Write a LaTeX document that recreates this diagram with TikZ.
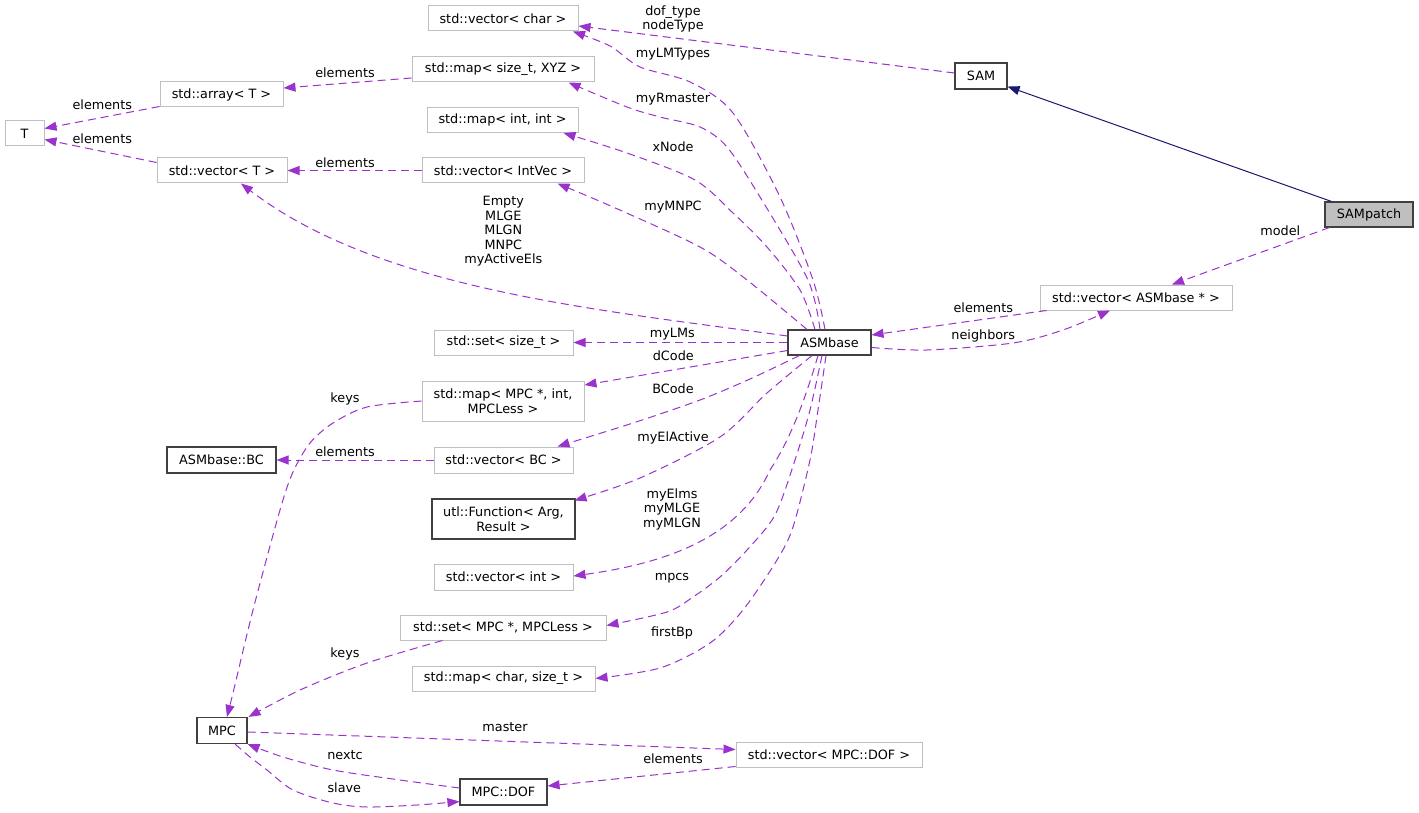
\documentclass[tikz,border=0pt]{standalone}
\usepackage{fontspec}
\setmainfont{DejaVu Sans}
\usetikzlibrary{arrows.meta}
\definecolor{depc}{HTML}{9A32CD}
\definecolor{inhc}{HTML}{191970}
\definecolor{boxgray}{HTML}{BFBFBF}
\definecolor{boxdark}{HTML}{404040}
\definecolor{selfill}{HTML}{BFBFBF}
\tikzset{
  gbox/.style={draw=boxgray, fill=white, line width=1pt, inner sep=0pt, minimum height=25pt, align=center},
  bbox/.style={draw=boxdark, fill=white, line width=1.1pt, inner sep=0pt, minimum height=25pt, align=center},
  selbox/.style={draw=boxdark, fill=selfill, line width=1.1pt, inner sep=0pt, minimum height=25pt, align=center},
  lbl/.style={inner sep=0pt, align=center},
  dep/.style={draw=depc, dash pattern=on 8pt off 5pt, line width=1pt, -{Triangle[length=12pt,width=9pt,fill=depc]}},
  inh/.style={draw=inhc, line width=1pt, -{Triangle[length=12pt,width=9pt,fill=inhc]}}
}
\begin{document}
\begin{tikzpicture}[x=1pt,y=-1pt,font=\fontsize{12.8}{14.5}\selectfont]
\useasboundingbox (0,0) rectangle (1419,813);
\fill[white] (0,0) rectangle (1419,813);

% nodes
\node[gbox, minimum width=39] (T) at (24.5,133.5) {T};
\node[gbox, minimum width=123] (arrayT) at (221.5,94.5) {std::array< T >};
\node[gbox, minimum width=130] (vectorT) at (222,170.5) {std::vector< T >};
\node[gbox, minimum width=150] (vecchar) at (503,18.5) {std::vector< char >};
\node[gbox, minimum width=182] (mapXYZ) at (503,69.5) {std::map< size\_t, XYZ >};
\node[gbox, minimum width=151] (mapint) at (502.5,120) {std::map< int, int >};
\node[gbox, minimum width=162] (vecIntVec) at (503,170.5) {std::vector< IntVec >};
\node[bbox, minimum width=52, minimum height=26] (SAM) at (981,76) {SAM};
\node[selbox, minimum width=88] (SAMpatch) at (1369,214.5) {SAMpatch};
\node[gbox, minimum width=192] (vecASM) at (1136,297.5) {std::vector< ASMbase * >};
\node[bbox, minimum width=83] (ASMbase) at (829.5,342.5) {ASMbase};
\node[gbox, minimum width=139] (setsize) at (503.5,342.5) {std::set< size\_t >};
\node[gbox, minimum width=162, minimum height=40] (mapMPC) at (503,401) {std::map< MPC *, int,\\MPCLess >};
\node[gbox, minimum width=139, minimum height=26] (vecBC) at (503.5,460) {std::vector< BC >};
\node[bbox, minimum width=109, minimum height=26] (ASMBC) at (221.5,460) {ASMbase::BC};
\node[bbox, minimum width=143, minimum height=40] (utlFunc) at (503.5,519) {utl::Function< Arg,\\Result >};
\node[gbox, minimum width=139, minimum height=26] (vecint) at (503.5,577) {std::vector< int >};
\node[gbox, minimum width=206] (setMPC) at (503,627.5) {std::set< MPC *, MPCLess >};
\node[gbox, minimum width=183] (mapchar) at (503.5,678.5) {std::map< char, size\_t >};
\node[bbox, minimum width=50, minimum height=26] (MPC) at (222,730.5) {MPC};
\node[gbox, minimum width=186] (vecDOF) at (829,754.5) {std::vector< MPC::DOF >};
\node[bbox, minimum width=87, minimum height=26] (MPCDOF) at (503.5,792) {MPC::DOF};

% edges
\draw[inh] ([xshift=7pt]SAMpatch.north west) -- ([yshift=3pt]SAM.south east);
\draw[dep] ([yshift=3pt]SAM.west) -- ([yshift=-7.5pt]vecchar.east);
\draw[dep] plot[smooth] coordinates {([xshift=-4.5pt]ASMbase.north) (813,280) (780,197) (733,113) (690,82) (640,67) (610,46) ([xshift=-5.5pt]vecchar.south east)};
\draw[dep] plot[smooth] coordinates {([xshift=-9.5pt]ASMbase.north) (808,280) (760,197) (727,147) (700,127) (660,117) (627,107) ([xshift=-26pt]mapXYZ.south east)};
\draw[dep] plot[smooth] coordinates {([xshift=-14.5pt]ASMbase.north) (800,290) (767,247) (733,213) (695,180) (627,153) ([xshift=-15pt]mapint.south east)};
\draw[dep] plot[smooth] coordinates {([xshift=-22.5pt]ASMbase.north) (747,280) (700,247) (613,207) ([xshift=-27pt]vecIntVec.south east)};
\draw[dep] ([yshift=6.5pt]ASMbase.west) .. controls (600,310) and (380,290) .. ([xshift=19pt]vectorT.south);
\draw[dep] (ASMbase.west) -- (setsize.east);
\draw[dep] ([yshift=-8pt]ASMbase.west) -- ([yshift=16pt]mapMPC.east);
\draw[dep] plot[smooth] coordinates {([xshift=12pt]ASMbase.south west) (750,379) (700,400) (633,423) ([xshift=-16pt]vecBC.north east)};
\draw[dep] plot[smooth] coordinates {([xshift=-17.5pt]ASMbase.south) (767,393) (720,437) (640,478) ([xshift=-1pt,yshift=-2pt]utlFunc.north east)};
\draw[dep] ([xshift=-11.5pt]ASMbase.south) .. controls (805,400) and (790,440) .. (770,470) .. controls (745,525) and (690,560) .. ([yshift=1pt]vecint.east);
\draw[dep] plot[smooth] coordinates {([xshift=-7.5pt]ASMbase.south) (810,410) (795,460) (775,515) (747,550) (720,577) (693,597) (667,612) ([yshift=2pt]setMPC.east)};
\draw[dep] plot[smooth] coordinates {([xshift=-3.5pt]ASMbase.south) (818,410) (810,460) (793,527) (777,560) (743,610) (710,643) (660,668) (mapchar.east)};
\draw[dep] ([xshift=7pt]vecASM.south west) -- ([yshift=7.5pt]ASMbase.east);
\draw[dep] plot[smooth] coordinates {([yshift=-5pt]ASMbase.east) (927,350) (1013,343) (1063,330) ([xshift=-26pt]vecASM.south)};
\draw[dep] ([xshift=5pt]SAMpatch.south west) -- ([xshift=36pt]vecASM.north);
\draw[dep] ([yshift=-8.5pt]mapXYZ.west) -- ([yshift=6.5pt]arrayT.east);
\draw[dep] ([yshift=1pt]arrayT.south west) -- ([yshift=5pt]T.east);
\draw[dep] ([yshift=8pt]vectorT.west) -- ([yshift=-6pt]T.east);
\draw[dep] (vecIntVec.west) -- (vectorT.east);
\draw[dep] (vecBC.west) -- (ASMBC.east);
\draw[dep] plot[smooth] coordinates {(mapMPC.west) (367,407) (333,423) (310,443) (293,472) (280,510) (253,610) (233,693) ([xshift=5pt]MPC.north)};
\draw[dep] plot[smooth] coordinates {([xshift=43pt]setMPC.south west) (367,663) (300,690) ([xshift=1pt]MPC.north east)};
\draw[dep] ([yshift=-1.5pt]MPC.east) -- ([yshift=5pt]vecDOF.west);
\draw[dep] plot[smooth] coordinates {([yshift=4pt]MPCDOF.west) (400,780) (333,770) (283,757) (MPC.south east)};
\draw[dep] plot[smooth] coordinates {([xshift=13pt]MPC.south) (250,757) (267,770) (293,790) (333,803) (367,807) (417,805) ([yshift=4pt]MPCDOF.south west)};
\draw[dep] ([yshift=1pt]vecDOF.south west) -- ([yshift=6pt]MPCDOF.east);

% labels
\node[lbl] (l1) at (673,19) {dof\_type\\nodeType};
\node[lbl] (l2) at (673,54.3) {myLMTypes};
\node[lbl] (l3) at (673,99.3) {myRmaster};
\node[lbl] (l4) at (673,146.7) {xNode};
\node[lbl] (l5) at (673,206.7) {myMNPC};
\node[lbl] (l6) at (503.3,231.5) {Empty\\MLGE\\MLGN\\MNPC\\myActiveEls};
\node[lbl] (l7) at (672.3,334.3) {myLMs};
\node[lbl] (l8) at (673.3,356) {dCode};
\node[lbl] (l9) at (673,388.3) {BCode};
\node[lbl] (l10) at (673,438.3) {myElActive};
\node[lbl] (l11) at (672,509) {myElms\\myMLGE\\myMLGN};
\node[lbl] (l12) at (672,578.7) {mpcs};
\node[lbl] (l13) at (672,633) {firstBp};
\node[lbl] (l14) at (505,727) {master};
\node[lbl] (l15) at (673,759) {elements};
\node[lbl] (l16) at (345,755.3) {nextc};
\node[lbl] (l17) at (344.3,787.7) {slave};
\node[lbl] (l18) at (345,654.3) {keys};
\node[lbl] (l19) at (345,399.3) {keys};
\node[lbl] (l20) at (345,451.7) {elements};
\node[lbl] (l21) at (102.3,104.3) {elements};
\node[lbl] (l22) at (102.3,138.3) {elements};
\node[lbl] (l23) at (345,72.3) {elements};
\node[lbl] (l24) at (345,162.7) {elements};
\node[lbl] (l25) at (983.3,307.3) {elements};
\node[lbl] (l26) at (983.3,335.7) {neighbors};
\node[lbl] (l27) at (1280.3,231) {model};
\end{tikzpicture}
\end{document}
